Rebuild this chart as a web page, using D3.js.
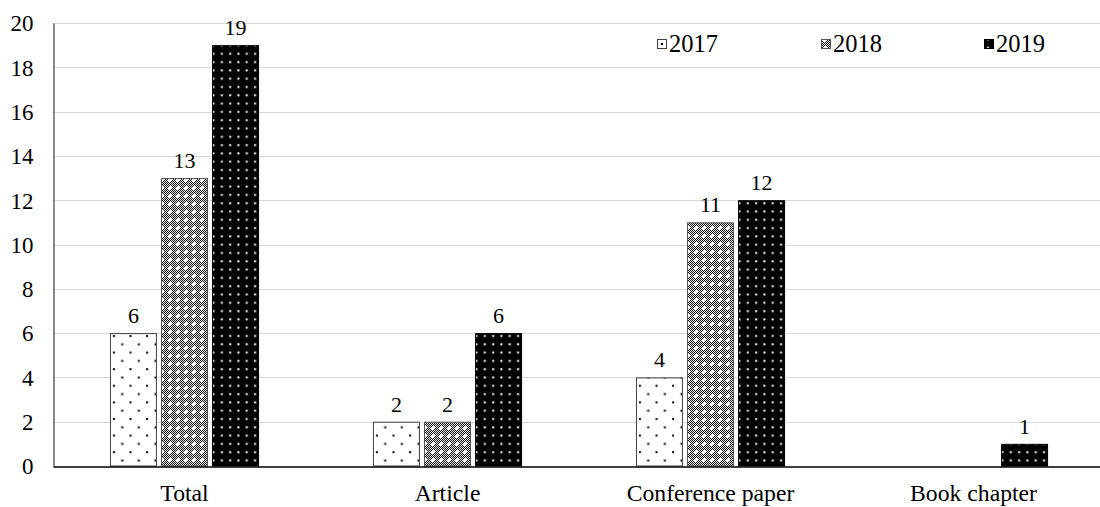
<!DOCTYPE html>
<html>
<head>
<meta charset="utf-8">
<script src="https://cdn.jsdelivr.net/npm/d3@7/dist/d3.min.js"></script>
<style>
  html, body { margin: 0; padding: 0; background: #fff; }
  svg { display: block; }
</style>
</head>
<body>
<svg id="chart" width="1100" height="507"></svg>
<script>
// Publication counts by type and year
const categories = ["Total", "Article", "Conference paper", "Book chapter"];
const years = ["2017", "2018", "2019"];
const values2017 = [6, 2, 4, 0];
const values2018 = [13, 2, 11, 0];
const values2019 = [19, 6, 12, 1];
const yTicks = [0, 2, 4, 6, 8, 10, 12, 14, 16, 18, 20];

const seriesValues = { "2017": values2017, "2018": values2018, "2019": values2019 };
const FONT = '"Liberation Serif"';

const svg = d3.select("#chart");
const margin = { left: 53, right: -5, top: 23, bottom: 41 };
const W = 1100, H = 507;

const x0 = d3.scaleBand()
  .domain(categories)
  .range([margin.left, W - margin.right])
  .paddingInner(0.433)
  .paddingOuter(0.2165);

const x1 = d3.scaleBand()
  .domain(years)
  .range([0, x0.bandwidth()])
  .paddingInner(0.08);

const y = d3.scaleLinear().domain([0, 20]).range([H - margin.bottom, margin.top]);

// Fill patterns
const defs = svg.append("defs");

// 2017: white with sparse staggered black dots
const p1 = defs.append("pattern").attr("id", "pat2017")
  .attr("patternUnits", "userSpaceOnUse").attr("width", 16.6).attr("height", 16.6);
p1.append("rect").attr("width", 16.6).attr("height", 16.6).attr("fill", "#fff");
p1.append("rect").attr("x", 3).attr("y", 3).attr("width", 2).attr("height", 2).attr("fill", "#000");
p1.append("rect").attr("x", 11.3).attr("y", 11.3).attr("width", 2).attr("height", 2).attr("fill", "#000");

// 2018: fine checker with white crosses
const p2 = defs.append("pattern").attr("id", "pat2018")
  .attr("patternUnits", "userSpaceOnUse").attr("width", 8).attr("height", 8);
p2.append("rect").attr("width", 8).attr("height", 8).attr("fill", "#fff");
for (let i = 0; i < 8; i++) {
  for (let j = 0; j < 8; j++) {
    if ((i + j) % 2 === 0) {
      p2.append("rect").attr("x", i).attr("y", j).attr("width", 1).attr("height", 1).attr("fill", "#000");
    }
  }
}
p2.append("rect").attr("x", 3).attr("y", 2).attr("width", 2).attr("height", 4).attr("fill", "#fff");
p2.append("rect").attr("x", 2).attr("y", 3).attr("width", 4).attr("height", 2).attr("fill", "#fff");

// 2019: black with white dots
const p3 = defs.append("pattern").attr("id", "pat2019")
  .attr("patternUnits", "userSpaceOnUse").attr("width", 8.3).attr("height", 8.3);
p3.append("rect").attr("width", 8.3).attr("height", 8.3).attr("fill", "#000");
p3.append("rect").attr("x", 3).attr("y", 3).attr("width", 2).attr("height", 2).attr("fill", "#fff");

const fills = { "2017": "url(#pat2017)", "2018": "url(#pat2018)", "2019": "url(#pat2019)" };
const strokes = { "2017": "#404040", "2018": "#555", "2019": "#000" };

// Gridlines
svg.append("g")
  .selectAll("line")
  .data(yTicks.filter(d => d > 0))
  .join("line")
  .attr("x1", margin.left).attr("x2", W)
  .attr("y1", d => Math.round(y(d)) + 0.5).attr("y2", d => Math.round(y(d)) + 0.5)
  .attr("stroke", "#d9d9d9").attr("stroke-width", 1);

// Y axis
const yAxis = svg.append("g")
  .attr("transform", `translate(${margin.left + 0.5},0)`)
  .call(d3.axisLeft(y).tickValues(yTicks).tickSize(0).tickPadding(20));
yAxis.attr("font-family", null);
yAxis.select(".domain").attr("stroke", "#404040").attr("stroke-width", 1.2);
yAxis.selectAll("text")
  .style("font-family", FONT).attr("fill", "#000")
  .style("font-size", "23px").attr("dy", "0.34em");

// Bars
const groups = svg.append("g")
  .selectAll("g")
  .data(categories)
  .join("g")
  .attr("transform", d => `translate(${x0(d)},0)`);

groups.selectAll("rect")
  .data((c, i) => years.map(yr => ({ yr, v: seriesValues[yr][i] })).filter(d => d.v > 0))
  .join("rect")
  .attr("x", d => x1(d.yr) + 0.5)
  .attr("y", d => y(d.v) + 0.5)
  .attr("width", x1.bandwidth() - 1)
  .attr("height", d => y(0) - y(d.v) - 0.5)
  .attr("fill", d => fills[d.yr])
  .attr("stroke", d => strokes[d.yr])
  .attr("stroke-width", 1);

// Value labels
groups.selectAll("text.val")
  .data((c, i) => years.map(yr => ({ yr, v: seriesValues[yr][i] })).filter(d => d.v > 0))
  .join("text")
  .attr("class", "val")
  .attr("x", d => x1(d.yr) + x1.bandwidth() / 2)
  .attr("y", d => y(d.v) - 10)
  .attr("text-anchor", "middle")
  .style("font-family", FONT).attr("fill", "#000")
  .style("font-size", "22px")
  .text(d => d.v);

// X axis
const xAxis = svg.append("g")
  .attr("transform", `translate(0,${y(0) + 0.5})`)
  .call(d3.axisBottom(x0).tickSize(0).tickPadding(18));
xAxis.attr("font-family", null);
xAxis.select(".domain").attr("stroke", "#000").attr("stroke-width", 1.5);
xAxis.selectAll("text")
  .style("font-family", FONT).attr("fill", "#000")
  .style("font-size", "23.7px");

// Legend
const legendX = [657, 821, 984];
const legend = svg.append("g")
  .selectAll("g")
  .data(years)
  .join("g")
  .attr("transform", (d, i) => `translate(${legendX[i]},52)`);
legend.append("rect")
  .attr("x", 0.5).attr("y", -12.5).attr("width", 9).attr("height", 9)
  .attr("fill", d => d === "2017" ? "#fff" : fills[d])
  .attr("stroke", d => strokes[d]).attr("stroke-width", 1);
legend.filter(d => d === "2017").append("rect")
  .attr("x", 4).attr("y", -9).attr("width", 2).attr("height", 2).attr("fill", "#000");
legend.append("text")
  .attr("x", 12).attr("y", 0)
  .style("font-family", FONT).attr("fill", "#000")
  .style("font-size", "24.5px")
  .text(d => d);
</script>
</body>
</html>
